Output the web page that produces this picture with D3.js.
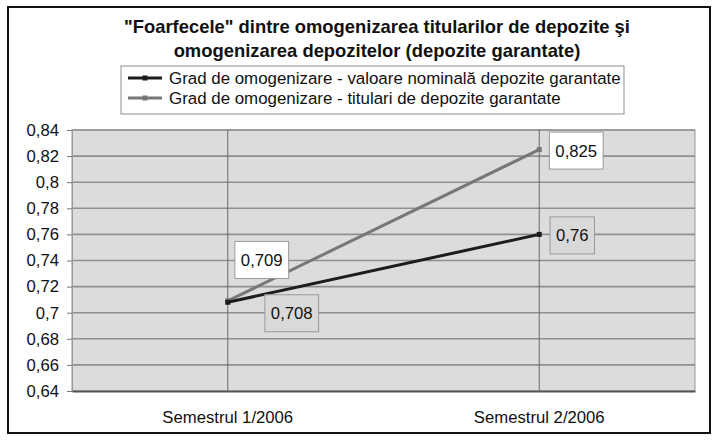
<!DOCTYPE html>
<html>
<head>
<meta charset="utf-8">
<script src="https://cdn.jsdelivr.net/npm/d3@7"></script>
<style>
  body { margin: 0; background: #fff; }
  text { font-family: "Liberation Sans", Arial, sans-serif; fill: #111; }
</style>
</head>
<body>
<script>
// chart data
var categories = ["Semestrul 1/2006", "Semestrul 2/2006"];
var seriesNames = [
    "Grad de omogenizare - valoare nominală depozite garantate",
    "Grad de omogenizare - titulari de depozite garantate"
];
var valoareNominala = [0.708, 0.76];
var titulari = [0.709, 0.825];
var yTicks = [0.64, 0.66, 0.68, 0.7, 0.72, 0.74, 0.76, 0.78, 0.8, 0.82, 0.84];
var titleLines = [
    "\"Foarfecele\" dintre omogenizarea titularilor de depozite şi",
    "omogenizarea depozitelor (depozite garantate)"
];

// looks
var W = 717, H = 441;
var plot = {left: 72, right: 695, top: 130, bottom: 391};
var series = [
    {name: seriesNames[0], values: valoareNominala, color: "#1c1c1c", box: "#d9d9d9",
     offs: [[64, 11], [33, 1]]},
    {name: seriesNames[1], values: titulari, color: "#777777", box: "#ffffff",
     offs: [[34, -41], [37, 1]]}
];
var fmt = function(v) { return String(+v.toFixed(3)).replace(".", ","); };

var svg = d3.select("body").append("svg")
    .attr("width", W).attr("height", H);

// outer frame
svg.append("rect")
    .attr("x", 8).attr("y", 7).attr("width", 702).attr("height", 426)
    .attr("fill", "#fff").attr("stroke", "#111").attr("stroke-width", 2);

// title
svg.append("g").selectAll("text").data(titleLines).enter().append("text")
    .attr("x", 377).attr("y", function(d, i) { return 33 + i * 24; })
    .attr("text-anchor", "middle")
    .style("font-weight", "bold").style("font-size", "18.4px")
    .text(function(d) { return d; });

var x = d3.scaleBand().domain(categories).range([plot.left, plot.right]);
var y = d3.scaleLinear().domain([0.64, 0.84]).range([plot.bottom, plot.top]);
var cx = function(c) { return x(c) + x.bandwidth() / 2; };

// plot area
svg.append("rect")
    .attr("x", plot.left).attr("y", plot.top)
    .attr("width", plot.right - plot.left).attr("height", plot.bottom - plot.top)
    .attr("fill", "#dcdcdc").attr("stroke", "#9a9a9a");

// horizontal grid
svg.append("g").selectAll("line").data(yTicks.slice(1)).enter().append("line")
    .attr("x1", plot.left).attr("x2", plot.right)
    .attr("y1", function(d) { return y(d); }).attr("y2", function(d) { return y(d); })
    .attr("stroke", "#8f8f8f").attr("stroke-width", 1.6);

// vertical grid at categories
svg.append("g").selectAll("line").data(categories).enter().append("line")
    .attr("x1", cx).attr("x2", cx)
    .attr("y1", plot.top).attr("y2", plot.bottom)
    .attr("stroke", "#6a6a6a").attr("stroke-width", 1);

// y axis
var yAxis = svg.append("g")
    .attr("transform", "translate(" + plot.left + ",0)")
    .call(d3.axisLeft(y).tickValues(yTicks).tickFormat(fmt).tickSize(5).tickPadding(8));
yAxis.select(".domain").attr("stroke", "#9a9a9a");
yAxis.selectAll(".tick line").attr("stroke", "#777");
yAxis.selectAll("text").style("font-size", "16.7px").attr("fill", "#111")
    .style("font-family", "Liberation Sans, Arial, sans-serif");

// x axis
var xAxis = svg.append("g")
    .attr("transform", "translate(0," + plot.bottom + ")")
    .call(d3.axisBottom(x).tickSize(0).tickPadding(20));
xAxis.select(".domain").attr("stroke", "#555").attr("stroke-width", 2);
xAxis.selectAll("text").style("font-size", "16.7px").attr("fill", "#111")
    .style("font-family", "Liberation Sans, Arial, sans-serif");

// lines
var line = d3.line()
    .x(function(d, i) { return cx(categories[i]); })
    .y(function(d) { return y(d); });

var sg = svg.append("g").selectAll("g").data(series.slice().reverse()).enter().append("g");
sg.append("path")
    .attr("d", function(s) { return line(s.values); })
    .attr("fill", "none")
    .attr("stroke", function(s) { return s.color; })
    .attr("stroke-width", 3);
sg.selectAll("rect").data(function(s) {
        return s.values.map(function(v, i) { return {v: v, i: i, s: s}; });
    }).enter().append("rect")
    .attr("x", function(d) { return cx(categories[d.i]) - 2.5; })
    .attr("y", function(d) { return y(d.v) - 2.5; })
    .attr("width", 5).attr("height", 5)
    .attr("fill", function(d) { return d.s.color; });

// data labels
series.forEach(function(s) {
    s.values.forEach(function(v, i) {
        var px = cx(categories[i]) + s.offs[i][0];
        var py = y(v) + s.offs[i][1];
        var g = svg.append("g");
        var r = g.append("rect");
        var t = g.append("text")
            .attr("x", px).attr("y", py + 6)
            .attr("text-anchor", "middle")
            .style("font-size", "16.7px")
            .text(fmt(v));
        var bb = t.node().getBBox();
        r.attr("x", bb.x - 6).attr("y", py - 18.5)
            .attr("width", bb.width + 12).attr("height", 37)
            .attr("fill", s.box).attr("stroke", "#9a9a9a").attr("stroke-width", 1);
    });
});

// legend
var lg = svg.append("g");
lg.append("rect")
    .attr("x", 121).attr("y", 66).attr("width", 503).attr("height", 48)
    .attr("fill", "#fff").attr("stroke", "#a0a0a0").attr("stroke-width", 1.2);
var li = lg.selectAll("g").data(series).enter().append("g")
    .attr("transform", function(d, i) { return "translate(0," + (78 + i * 20) + ")"; });
li.append("line")
    .attr("x1", 128).attr("x2", 162)
    .attr("stroke", function(d) { return d.color; }).attr("stroke-width", 3);
li.append("rect")
    .attr("x", 142.5).attr("y", -2.5).attr("width", 5).attr("height", 5)
    .attr("fill", function(d) { return d.color; });
li.append("text")
    .attr("x", 169).attr("y", 6)
    .style("font-size", "16.9px")
    .text(function(d) { return d.name; });
</script>
</body>
</html>
